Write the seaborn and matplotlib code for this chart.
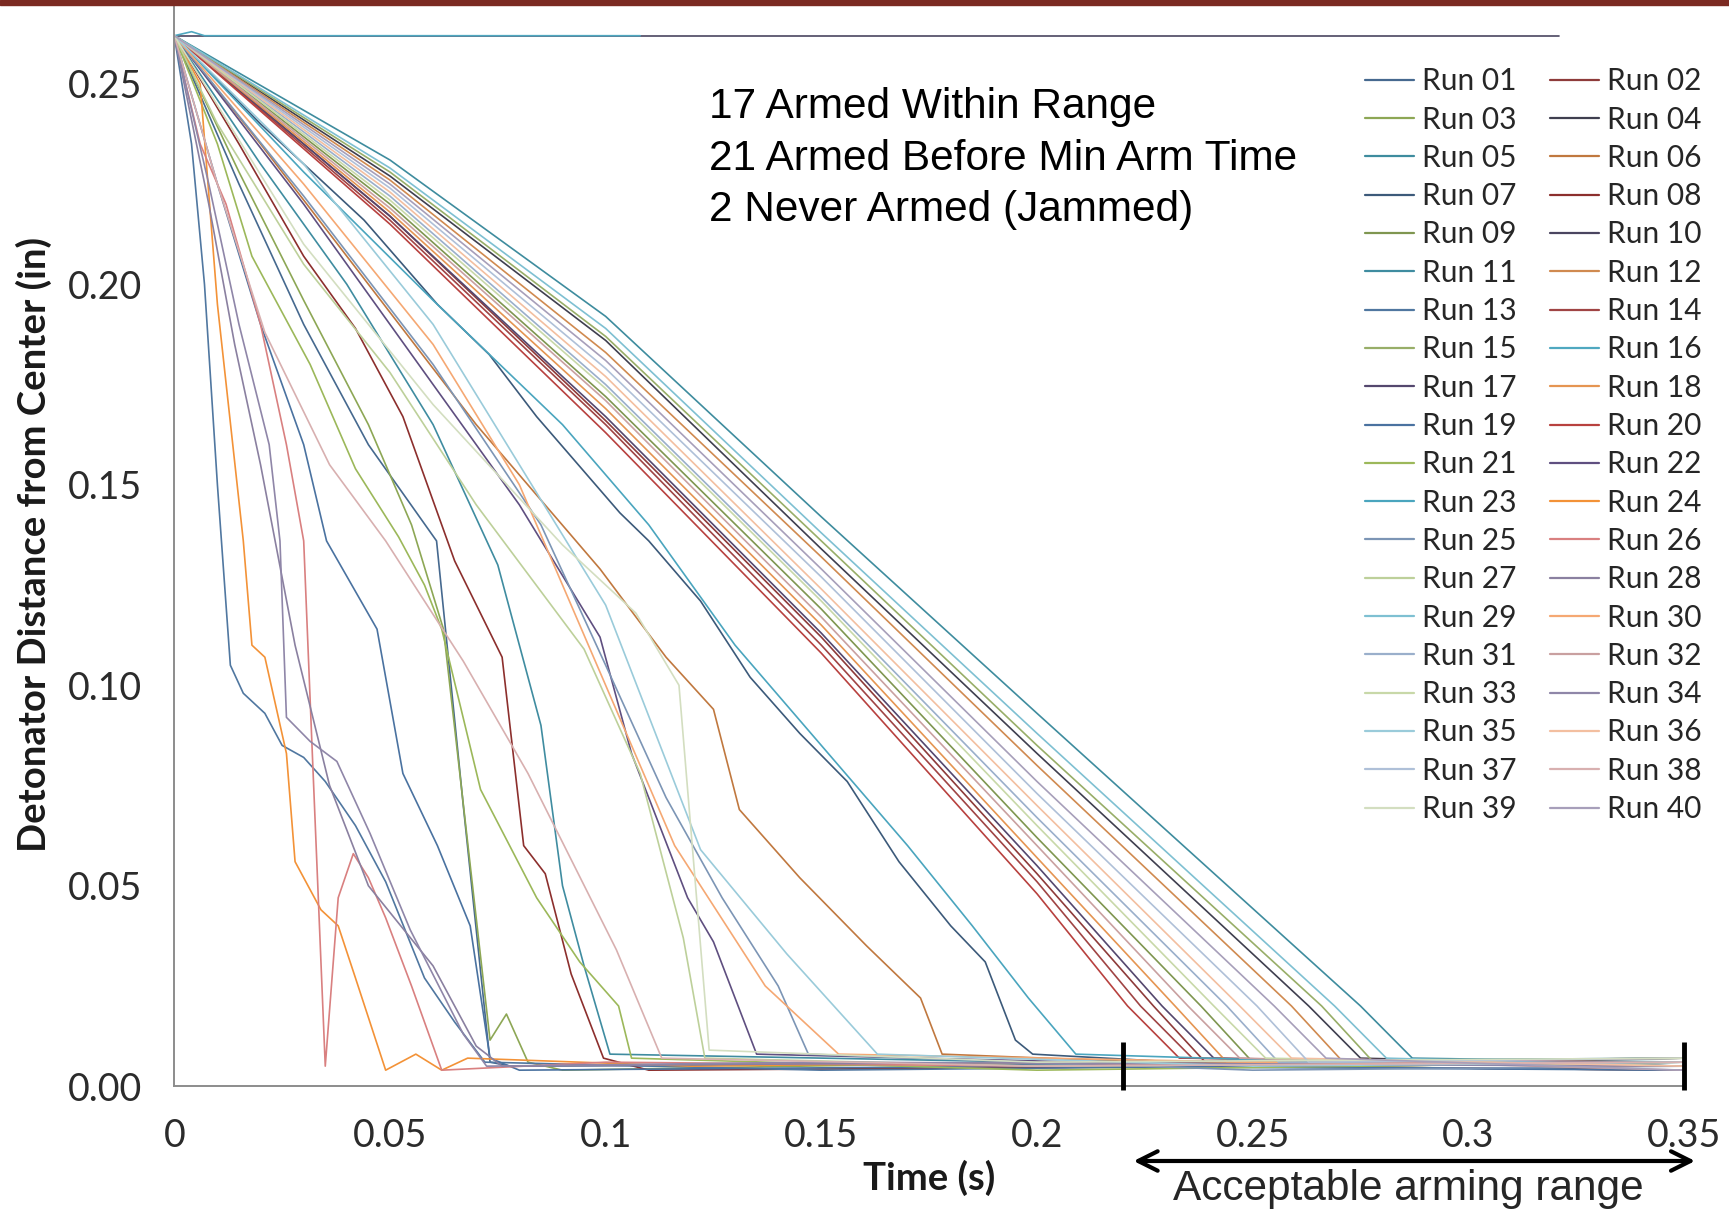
import pandas as pd
import matplotlib.pyplot as plt
import seaborn as sns
from matplotlib.lines import Line2D
from matplotlib.patches import Rectangle

# ---- data (time in s, distance in in) ----
# never armed (jammed)
t10 = [0, 0.007, 0.321]
d10 = [0.262, 0.262, 0.262]
t16 = [0, 0.004, 0.007, 0.108]
d16 = [0.262, 0.263, 0.262, 0.262]

# armed before min arm time
t24 = [0, 0.006, 0.010, 0.016, 0.018, 0.021, 0.026, 0.028, 0.034, 0.038, 0.042, 0.049, 0.056, 0.062, 0.068, 0.12, 0.2, 0.35]
d24 = [0.262, 0.250, 0.195, 0.136, 0.110, 0.107, 0.083, 0.056, 0.044, 0.040, 0.027, 0.004, 0.008, 0.004, 0.007, 0.005, 0.006, 0.005]
t26 = [0, 0.006, 0.012, 0.020, 0.026, 0.030, 0.032, 0.035, 0.038, 0.0415, 0.045, 0.049, 0.055, 0.062, 0.1, 0.2, 0.35]
d26 = [0.262, 0.235, 0.220, 0.190, 0.160, 0.136, 0.083, 0.005, 0.047, 0.058, 0.052, 0.042, 0.025, 0.004, 0.006, 0.005, 0.007]
t13 = [0, 0.004, 0.007, 0.010, 0.013, 0.016, 0.021, 0.025, 0.030, 0.035, 0.042, 0.049, 0.058, 0.065, 0.072, 0.15, 0.25, 0.35]
d13 = [0.262, 0.235, 0.200, 0.150, 0.105, 0.098, 0.093, 0.085, 0.082, 0.076, 0.065, 0.051, 0.027, 0.016, 0.006, 0.004, 0.005, 0.004]
t34 = [0, 0.008, 0.015, 0.022, 0.0245, 0.026, 0.0315, 0.0377, 0.0454, 0.0547, 0.067, 0.0724, 0.15, 0.35]
d34 = [0.262, 0.225, 0.190, 0.160, 0.136, 0.092, 0.086, 0.081, 0.063, 0.039, 0.013, 0.005, 0.006, 0.005]
t28 = [0, 0.008, 0.014, 0.020, 0.028, 0.036, 0.045, 0.060, 0.070, 0.076, 0.2, 0.35]
d28 = [0.262, 0.220, 0.185, 0.155, 0.110, 0.075, 0.050, 0.030, 0.010, 0.005, 0.006, 0.005]
t19 = [0, 0.010, 0.020, 0.030, 0.0353, 0.047, 0.053, 0.061, 0.0686, 0.0732, 0.08, 0.2, 0.35]
d19 = [0.262, 0.225, 0.190, 0.160, 0.136, 0.114, 0.078, 0.060, 0.040, 0.007, 0.004, 0.005, 0.004]
t01 = [0, 0.015, 0.030, 0.045, 0.0608, 0.067, 0.0732, 0.078, 0.3, 0.35]
d01 = [0.262, 0.225, 0.190, 0.160, 0.136, 0.070, 0.006, 0.005, 0.006, 0.005]
t03 = [0, 0.015, 0.030, 0.045, 0.055, 0.0624, 0.0732, 0.077, 0.082, 0.09, 0.2, 0.35]
d03 = [0.262, 0.228, 0.196, 0.165, 0.140, 0.114, 0.0115, 0.018, 0.006, 0.004, 0.006, 0.005]
t08 = [0, 0.015, 0.030, 0.042, 0.053, 0.065, 0.076, 0.081, 0.086, 0.092, 0.0995, 0.11, 0.25, 0.35]
d08 = [0.262, 0.235, 0.207, 0.189, 0.167, 0.131, 0.107, 0.060, 0.053, 0.028, 0.007, 0.004, 0.005, 0.004]
t11 = [0, 0.020, 0.040, 0.060, 0.075, 0.085, 0.090, 0.095, 0.101, 0.2, 0.35]
d11 = [0.262, 0.230, 0.200, 0.165, 0.130, 0.090, 0.050, 0.030, 0.008, 0.006, 0.007]
t21 = [0, 0.010, 0.018, 0.0315, 0.042, 0.052, 0.058, 0.062, 0.071, 0.084, 0.094, 0.103, 0.106, 0.2, 0.35]
d21 = [0.262, 0.235, 0.207, 0.180, 0.154, 0.137, 0.125, 0.114, 0.074, 0.047, 0.031, 0.020, 0.007, 0.004, 0.006]
t38 = [0, 0.010, 0.021, 0.036, 0.049, 0.067, 0.082, 0.1025, 0.113, 0.2, 0.35]
d38 = [0.262, 0.225, 0.188, 0.155, 0.136, 0.106, 0.078, 0.034, 0.007, 0.005, 0.006]
t27 = [0, 0.010, 0.030, 0.050, 0.070, 0.095, 0.108, 0.118, 0.123, 0.2, 0.35]
d27 = [0.262, 0.240, 0.205, 0.178, 0.145, 0.109, 0.078, 0.037, 0.007, 0.005, 0.006]
t39 = [0, 0.030, 0.060, 0.090, 0.107, 0.117, 0.124, 0.2, 0.35]
d39 = [0.262, 0.210, 0.170, 0.135, 0.118, 0.100, 0.009, 0.006, 0.007]
t22 = [0, 0.030, 0.060, 0.080, 0.0987, 0.106, 0.119, 0.125, 0.135, 0.25, 0.35]
d22 = [0.262, 0.220, 0.175, 0.145, 0.112, 0.083, 0.047, 0.036, 0.008, 0.005, 0.006]
t25 = [0, 0.030, 0.060, 0.085, 0.100, 0.114, 0.127, 0.140, 0.147, 0.25, 0.35]
d25 = [0.262, 0.222, 0.180, 0.140, 0.105, 0.072, 0.047, 0.025, 0.008, 0.004, 0.005]
t30 = [0, 0.030, 0.060, 0.080, 0.100, 0.116, 0.137, 0.154, 0.25, 0.35]
d30 = [0.262, 0.225, 0.185, 0.150, 0.100, 0.060, 0.025, 0.008, 0.006, 0.005]
t35 = [0, 0.030, 0.060, 0.080, 0.100, 0.122, 0.142, 0.163, 0.25, 0.35]
d35 = [0.262, 0.230, 0.190, 0.155, 0.120, 0.059, 0.033, 0.008, 0.005, 0.006]
t06 = [0, 0.020, 0.045, 0.070, 0.0987, 0.114, 0.125, 0.131, 0.145, 0.1605, 0.173, 0.178, 0.25, 0.35]
d06 = [0.262, 0.235, 0.200, 0.165, 0.129, 0.107, 0.094, 0.069, 0.052, 0.035, 0.022, 0.008, 0.005, 0.004]
t07 = [0, 0.020, 0.044, 0.061, 0.073, 0.084, 0.1033, 0.110, 0.122, 0.1335, 0.145, 0.156, 0.168, 0.180, 0.188, 0.195, 0.199, 0.25, 0.35]
d07 = [0.262, 0.240, 0.216, 0.195, 0.1825, 0.167, 0.143, 0.136, 0.121, 0.102, 0.088, 0.076, 0.056, 0.040, 0.031, 0.0115, 0.008, 0.005, 0.006]
t23 = [0, 0.030, 0.060, 0.090, 0.110, 0.130, 0.150, 0.170, 0.185, 0.198, 0.209, 0.27, 0.35]
d23 = [0.262, 0.228, 0.196, 0.165, 0.140, 0.110, 0.085, 0.060, 0.040, 0.022, 0.008, 0.006, 0.007]

# armed within range
t20 = [0, 0.05, 0.1, 0.15, 0.2, 0.221, 0.233, 0.35]
d20 = [0.262, 0.215, 0.163, 0.108, 0.048, 0.02, 0.007, 0.006]
t14 = [0, 0.05, 0.1, 0.15, 0.2, 0.224, 0.236, 0.35]
d14 = [0.262, 0.216, 0.165, 0.110, 0.051, 0.02, 0.007, 0.005]
t02 = [0, 0.05, 0.1, 0.15, 0.2, 0.227, 0.239, 0.35]
d02 = [0.262, 0.217, 0.166, 0.112, 0.053, 0.02, 0.006, 0.007]
t17 = [0, 0.05, 0.1, 0.15, 0.2, 0.229, 0.241, 0.35]
d17 = [0.262, 0.217, 0.167, 0.113, 0.055, 0.02, 0.007, 0.005]
t18 = [0, 0.05, 0.1, 0.15, 0.2, 0.232, 0.244, 0.35]
d18 = [0.262, 0.218, 0.169, 0.115, 0.057, 0.02, 0.006, 0.006]
t32 = [0, 0.05, 0.1, 0.15, 0.2, 0.235, 0.247, 0.35]
d32 = [0.262, 0.219, 0.171, 0.117, 0.060, 0.02, 0.007, 0.004]
t09 = [0, 0.05, 0.1, 0.15, 0.2, 0.238, 0.250, 0.35]
d09 = [0.262, 0.220, 0.172, 0.119, 0.062, 0.02, 0.006, 0.007]
t33 = [0, 0.05, 0.1, 0.15, 0.2, 0.241, 0.253, 0.35]
d33 = [0.262, 0.221, 0.174, 0.121, 0.065, 0.02, 0.007, 0.005]
t31 = [0, 0.05, 0.1, 0.15, 0.2, 0.244, 0.256, 0.35]
d31 = [0.262, 0.222, 0.175, 0.122, 0.067, 0.02, 0.006, 0.006]
t36 = [0, 0.05, 0.1, 0.15, 0.2, 0.247, 0.259, 0.35]
d36 = [0.262, 0.223, 0.177, 0.124, 0.070, 0.02, 0.007, 0.005]
t37 = [0, 0.05, 0.1, 0.15, 0.2, 0.251, 0.263, 0.35]
d37 = [0.262, 0.224, 0.179, 0.127, 0.073, 0.02, 0.006, 0.007]
t40 = [0, 0.05, 0.1, 0.15, 0.2, 0.255, 0.267, 0.35]
d40 = [0.262, 0.225, 0.181, 0.129, 0.076, 0.02, 0.007, 0.004]
t12 = [0, 0.05, 0.1, 0.15, 0.2, 0.259, 0.271, 0.35]
d12 = [0.262, 0.226, 0.183, 0.132, 0.080, 0.02, 0.006, 0.006]
t04 = [0, 0.05, 0.1, 0.15, 0.2, 0.263, 0.275, 0.35]
d04 = [0.262, 0.227, 0.186, 0.134, 0.083, 0.02, 0.007, 0.005]
t15 = [0, 0.05, 0.1, 0.15, 0.2, 0.266, 0.278, 0.35]
d15 = [0.262, 0.228, 0.187, 0.136, 0.085, 0.02, 0.006, 0.007]
t29 = [0, 0.05, 0.1, 0.15, 0.2, 0.269, 0.281, 0.35]
d29 = [0.262, 0.229, 0.189, 0.138, 0.088, 0.02, 0.007, 0.005]
t05 = [0, 0.05, 0.1, 0.15, 0.2, 0.275, 0.287, 0.35]
d05 = [0.262, 0.231, 0.192, 0.142, 0.093, 0.02, 0.007, 0.006]

x_ticks = [0, 0.05, 0.1, 0.15, 0.2, 0.25, 0.3, 0.35]
x_tick_labels = ["0", "0.05", "0.1", "0.15", "0.2", "0.25", "0.3", "0.35"]
y_ticks = [0, 0.05, 0.1, 0.15, 0.2, 0.25]
y_tick_labels = ["0.00", "0.05", "0.10", "0.15", "0.20", "0.25"]
arm_range = [0.22, 0.35]   # acceptable arming window markers
summary = "17 Armed Within Range\n21 Armed Before Min Arm Time\n2 Never Armed (Jammed)"

colors = ['#46698F', '#8E3B3A', '#8DA755', '#3F3F4F', '#3E8C9E', '#C0783F',
          '#3C5A7A', '#8C2F2D', '#7F9650', '#4A4560', '#3F8CA0', '#D08A50',
          '#5077A0', '#A04444', '#98AE68', '#4FA8C0', '#54476E', '#E59552',
          '#4A72A0', '#B8413F', '#9CB85A', '#5F4F80', '#4AA5BE', '#F39237',
          '#7C95B5', '#D98080', '#BDD09A', '#8A80A0', '#7EC0D2', '#F5A873',
          '#9AAFCB', '#C9A0A0', '#C8D8A8', '#8F86A8', '#9ACBDA', '#F3BFA0',
          '#AFC0D8', '#D8B0B0', '#D3DEC0', '#A79FBA']

runs = {
    "Run 01": (t01, d01), "Run 02": (t02, d02), "Run 03": (t03, d03), "Run 04": (t04, d04),
    "Run 05": (t05, d05), "Run 06": (t06, d06), "Run 07": (t07, d07), "Run 08": (t08, d08),
    "Run 09": (t09, d09), "Run 10": (t10, d10), "Run 11": (t11, d11), "Run 12": (t12, d12),
    "Run 13": (t13, d13), "Run 14": (t14, d14), "Run 15": (t15, d15), "Run 16": (t16, d16),
    "Run 17": (t17, d17), "Run 18": (t18, d18), "Run 19": (t19, d19), "Run 20": (t20, d20),
    "Run 21": (t21, d21), "Run 22": (t22, d22), "Run 23": (t23, d23), "Run 24": (t24, d24),
    "Run 25": (t25, d25), "Run 26": (t26, d26), "Run 27": (t27, d27), "Run 28": (t28, d28),
    "Run 29": (t29, d29), "Run 30": (t30, d30), "Run 31": (t31, d31), "Run 32": (t32, d32),
    "Run 33": (t33, d33), "Run 34": (t34, d34), "Run 35": (t35, d35), "Run 36": (t36, d36),
    "Run 37": (t37, d37), "Run 38": (t38, d38), "Run 39": (t39, d39), "Run 40": (t40, d40),
}
names = list(runs.keys())
palette = dict(zip(names, colors))

frames = []
for name, (t, d) in runs.items():
    frames.append(pd.DataFrame({"run": name, "time": t, "dist": d}))
df = pd.concat(frames, ignore_index=True)

sns.set_style("white")
plt.rcParams['font.family'] = ['Lato', 'DejaVu Sans']

fig = plt.figure(figsize=(17.29, 12.10), dpi=100)
ax = fig.add_axes([0.1008, 0.1023, 0.8732, 0.8947])

sns.lineplot(data=df, x="time", y="dist", hue="run", hue_order=names, palette=palette,
             estimator=None, sort=False, linewidth=1.2, legend=False, ax=ax)

ax.set_xlim(0, 0.35)
ax.set_ylim(0, 0.27)
ax.set_xticks(x_ticks)
ax.set_xticklabels(x_tick_labels)
ax.set_yticks(y_ticks)
ax.set_yticklabels(y_tick_labels)
for s in ["top", "right"]:
    ax.spines[s].set_visible(False)
for s in ["left", "bottom"]:
    ax.spines[s].set_color("#8c8c8c")
    ax.spines[s].set_linewidth(1.4)
ax.tick_params(direction="out", length=8, width=1.4, color="#8c8c8c",
               labelsize=27, pad=15, labelcolor="#2b2b2b")

ax.set_xlabel("Time (s)", fontsize=27.5, fontweight="bold", color="#1a1a1a")
ax.set_ylabel("Detonator Distance from Center (in)", fontsize=27.5, fontweight="bold", color="#1a1a1a")
ax.xaxis.set_label_coords(0.5, -0.068)
ax.yaxis.set_label_coords(-0.081, 0.5)

# acceptable range markers on the axis
ax.vlines(arm_range, -0.001, 0.011, colors="black", linewidth=3.5, clip_on=False, zorder=5)

ax.text(0.124, 0.2491, summary, fontsize=30.5, family="Liberation Sans", va="top",
        ha="left", linespacing=1.36, color="black")

# legend in Excel's row order (Run 01 | Run 02 ...)
order = names[0::2] + names[1::2]
handles = [Line2D([], [], color=palette[n], lw=1.6) for n in order]
ax.legend(handles, order, ncol=2, loc="upper right", bbox_to_anchor=(0.9995, 0.9666),
          bbox_transform=fig.transFigure, frameon=False, fontsize=21.5,
          handlelength=1.65, handletextpad=0.25, columnspacing=1.12, labelspacing=0.345)

# arrow + caption below the axis
ax.annotate("", xy=(0.982, 0.0405), xytext=(0.654, 0.0405), xycoords="figure fraction",
            arrowprops=dict(arrowstyle="<->", lw=3, color="black", mutation_scale=35))
fig.text(0.8145, 0.0174, "Acceptable arming range", ha="center", va="center",
         fontsize=30.5, family="Liberation Sans")

# slide banner strip at top
fig.patches.append(Rectangle((0, 0.9955), 1, 0.0045, transform=fig.transFigure,
                             color="#7b2a22", zorder=10))

fig.savefig("out.png", dpi=100)
